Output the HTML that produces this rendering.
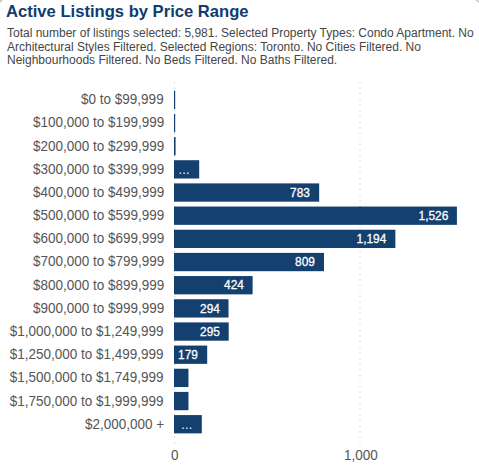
<!DOCTYPE html>
<html><head><meta charset="utf-8"><style>
html,body{margin:0;padding:0;background:#fff;}
body{width:479px;height:470px;position:relative;overflow:hidden;font-family:"Liberation Sans",sans-serif;}
.title{position:absolute;left:6px;top:2px;font-size:16.6px;font-weight:bold;color:#103c70;white-space:nowrap;}
.desc{position:absolute;left:7px;top:27px;width:472px;font-size:12px;line-height:13.6px;color:#464646;}
.lab{position:absolute;right:315px;font-size:14px;color:#555;white-space:nowrap;line-height:22px;transform:scaleX(0.964);transform-origin:100% 50%;}
.bl{position:absolute;color:#fff;font-weight:normal;font-size:12.5px;line-height:14px;white-space:nowrap;-webkit-text-stroke:0.3px #fff;transform:scaleX(0.95);transform-origin:100% 50%;}
.ell{position:absolute;color:#fff;font-size:12px;line-height:14px;}
svg{position:absolute;left:0;top:0;}
.tick{position:absolute;top:447px;font-size:14px;color:#555;line-height:16px;transform:scaleX(0.964);transform-origin:0 50%;}
</style></head><body>
<div class="title">Active Listings by Price Range</div>
<div class="desc">Total number of listings selected: 5,981. Selected Property Types: Condo Apartment. No Architectural Styles Filtered. Selected Regions: Toronto. No Cities Filtered. No Neighbourhoods Filtered. No Beds Filtered. No Baths Filtered.</div>
<svg width="479" height="470"><g stroke="#c8c8c8" stroke-width="1" stroke-dasharray="1.2 4.43">
<line x1="174.5" y1="82.0" x2="174.5" y2="443.5"/>
<line x1="360" y1="82.0" x2="360" y2="443.5"/>
</g><g fill="none" stroke="#c4c4c4" stroke-width="1.4"><path d="M-2.4 8.5A10.4 10.4 0 0 1 8 -1.9"/><path d="M471 -1.62A10.12 10.12 0 0 1 481.12 8.5"/></g><g fill="#144070"><rect x="174.0" y="90.70" width="1.20" height="18.3"/><rect x="174.0" y="113.87" width="1.20" height="18.3"/><rect x="174.0" y="137.04" width="1.58" height="18.3"/><rect x="174.0" y="160.21" width="25.21" height="18.3"/><rect x="174.0" y="183.38" width="145.17" height="18.3"/><rect x="174.0" y="206.55" width="282.92" height="18.3"/><rect x="174.0" y="229.72" width="221.37" height="18.3"/><rect x="174.0" y="252.89" width="149.99" height="18.3"/><rect x="174.0" y="276.06" width="78.61" height="18.3"/><rect x="174.0" y="299.23" width="54.51" height="18.3"/><rect x="174.0" y="322.40" width="54.69" height="18.3"/><rect x="174.0" y="345.57" width="33.19" height="18.3"/><rect x="174.0" y="368.74" width="14.46" height="18.3"/><rect x="174.0" y="391.91" width="14.46" height="18.3"/><rect x="174.0" y="415.08" width="27.81" height="18.3"/></g></svg>
<div class="lab" style="top:88px">$0 to $99,999</div><div class="lab" style="top:111px">$100,000 to $199,999</div><div class="lab" style="top:135px">$200,000 to $299,999</div><div class="lab" style="top:158px">$300,000 to $399,999</div><div class="lab" style="top:181px">$400,000 to $499,999</div><div class="lab" style="top:204px">$500,000 to $599,999</div><div class="lab" style="top:227px">$600,000 to $699,999</div><div class="lab" style="top:250px">$700,000 to $799,999</div><div class="lab" style="top:274px">$800,000 to $899,999</div><div class="lab" style="top:297px">$900,000 to $999,999</div><div class="lab" style="top:320px">$1,000,000 to $1,249,999</div><div class="lab" style="top:343px">$1,250,000 to $1,499,999</div><div class="lab" style="top:366px">$1,500,000 to $1,749,999</div><div class="lab" style="top:390px">$1,750,000 to $1,999,999</div><div class="lab" style="top:413px">$2,000,000 +</div>
<div class="ell" style="right:288.99px;top:162.71px">…</div><div class="bl" style="right:168.73px;top:186px">783</div><div class="bl" style="right:30.98px;top:209px">1,526</div><div class="bl" style="right:92.53px;top:232px">1,194</div><div class="bl" style="right:163.91px;top:255px">809</div><div class="bl" style="right:235.29px;top:278px">424</div><div class="bl" style="right:259.39px;top:302px">294</div><div class="bl" style="right:259.21px;top:325px">295</div><div class="bl" style="right:280.71px;top:348px">179</div><div class="ell" style="right:286.39px;top:417.58px">…</div>
<div class="tick" style="left:170.5px">0</div>
<div class="tick" style="left:343.5px">1,000</div>
</body></html>
